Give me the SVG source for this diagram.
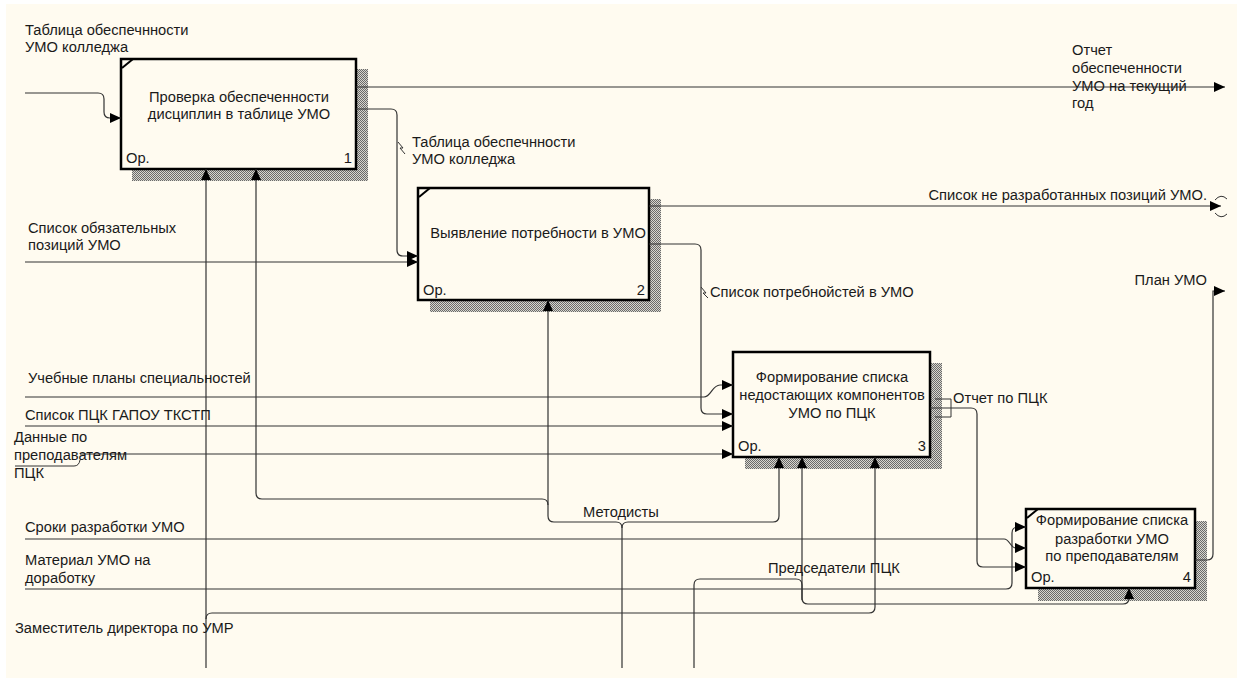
<svg xmlns="http://www.w3.org/2000/svg" width="1237" height="681" viewBox="0 0 1237 681">
<style>
text{font-family:"Liberation Sans",Arial,sans-serif;font-size:14.7px;fill:#1a1a1a}
.m{text-anchor:middle}
.e{text-anchor:end}
.box{fill:#fffbf0;stroke:#000;stroke-width:2.5}
.sh{fill:url(#hatch)}
.c{fill:none;stroke:#333;stroke-width:1.2}
.a{marker-end:url(#arr)}
.sq{fill:none;stroke:#333;stroke-width:1}
.cn{stroke:#000;stroke-width:2}
</style>
<defs>
<pattern id="hatch" width="2" height="2" patternUnits="userSpaceOnUse">
<rect width="2" height="2" fill="#d8d6ce"/>
<rect width="1" height="1" fill="#6a6a6a"/>
<rect x="1" y="1" width="1" height="1" fill="#6a6a6a"/>
</pattern>
<marker id="arr" markerWidth="12" markerHeight="10" refX="11" refY="5" orient="auto" markerUnits="userSpaceOnUse">
<path d="M0,0 L11,5 L0,10 Z" fill="#000"/>
</marker>
</defs>
<rect width="1237" height="681" fill="#ffffff"/>
<rect x="6" y="4" width="1231" height="674" fill="#fffbf0"/>

<g id="node1">
<rect class="sh" x="132" y="69" width="236" height="112"/>
<rect class="box" x="121" y="59" width="235" height="110"/>
<path class="cn" d="M122,68 L133,59"/>
<text class="m" x="239" y="102">Проверка обеспеченности</text>
<text class="m" x="239" y="119">дисциплин в таблице УМО</text>
<text x="126" y="163">Ор.</text>
<text class="e" x="352" y="163">1</text>
</g>

<g id="node2">
<rect class="sh" x="430" y="199" width="231" height="113"/>
<rect class="box" x="418" y="188" width="231" height="112"/>
<path class="cn" d="M419,197 L430,188"/>
<text class="m" x="538" y="238">Выявление потребности в УМО</text>
<text x="423" y="295">Ор.</text>
<text class="e" x="645" y="295">2</text>
</g>

<g id="node3">
<rect class="sh" x="745" y="363" width="197" height="106"/>
<rect class="box" x="733" y="352" width="197" height="105"/>
<text class="m" x="832" y="382">Формирование списка</text>
<text class="m" x="832" y="400">недостающих компонентов</text>
<text class="m" x="832" y="418">УМО по ПЦК</text>
<text x="738" y="451">Ор.</text>
<text class="e" x="926" y="451">3</text>
</g>

<g id="node4">
<rect class="sh" x="1038" y="521" width="169" height="80"/>
<rect class="box" x="1026" y="509" width="169" height="79"/>
<path class="cn" d="M1027,518 L1038,509"/>
<text class="m" x="1112" y="525">Формирование списка</text>
<text class="m" x="1112" y="544">разработки УМО</text>
<text class="m" x="1112" y="561">по преподавателям</text>
<text x="1031" y="582">Ор.</text>
<text class="e" x="1191" y="582">4</text>
</g>

<g id="connectors">
<path class="c a" d="M25,93 H98 Q104,93 104,99 V112 Q104,118 110,118 H121"/>
<path class="c a" d="M356,87 H1225"/>
<path class="c a" d="M356,109 H391 Q397,109 397,115 V250 Q397,256 403,256 H418"/>
<path class="sq" d="M398,142 L403,148 L400,148 L405,154"/>
<path class="c a" d="M25,262 H418"/>
<path class="c a" d="M649,206 H1221"/>
<path class="sq" d="M1215,200 Q1221,193 1227,199 M1215,213 Q1221,220 1227,214"/>
<path class="c a" d="M649,244 H695 Q701,244 701,250 V408 Q701,414 707,414 H733"/>
<path class="sq" d="M701,287 L706,293 L703,293 L708,298"/>
<path class="c a" d="M25,397 H704 C711,397 712,385 720,385 H733"/>
<path class="c a" d="M25,426 H733"/>
<path class="c a" d="M80,454 H733"/>
<path class="sq" d="M15,466 H74 Q79,466 80,460"/>
<path class="c a" d="M25,539 H1004 C1010,539 1010,548 1016,548 H1026"/>
<path class="c a" d="M25,589 H1006 Q1012,589 1012,583 V533 Q1012,527 1018,527 H1026"/>
<path class="c a" d="M930,408 H971 Q977,408 977,414 V561 Q977,567 983,567 H1026"/>
<path class="sq" d="M935,399 H951 V417 H935"/>
<path class="c a" d="M1195,560 H1207 Q1213,560 1213,554 V291 H1225"/>
<path class="c a" d="M206,668 V169"/>
<path class="c a" d="M206,619 Q206,613 212,613 H869 Q875,613 875,607 V457"/>
<path class="c a" d="M694,668 V585 Q694,579 700,579 H796 Q802,579 802,585 V598 Q802,604 808,604 H1123 Q1129,604 1129,598 V588"/>
<path class="c a" d="M802,600 V457"/>
<path class="c a" d="M622,668 V528 Q622,522 628,522 H773 Q779,522 779,516 V457"/>
<path class="c a" d="M622,528 Q622,522 616,522 H554 Q548,522 548,516 V300"/>
<path class="c a" d="M548,505 Q548,499 542,499 H262 Q256,499 256,493 V169"/>
</g>

<g id="labels">
<text x="25" y="35">Таблица обеспечнности</text>
<text x="25" y="52">УМО колледжа</text>
<text x="1072" y="55">Отчет</text>
<text x="1072" y="73">обеспеченности</text>
<text x="1072" y="91">УМО на текущий</text>
<text x="1072" y="108">год</text>
<text x="412" y="147">Таблица обеспечнности</text>
<text x="412" y="164">УМО колледжа</text>
<text x="28" y="233">Список обязательных</text>
<text x="28" y="250">позиций УМО</text>
<text class="e" x="1207" y="200">Список не разработанных позиций УМО.</text>
<text x="710" y="297">Список потребнойстей в УМО</text>
<text class="e" x="1207" y="285">План УМО</text>
<text x="28" y="383">Учебные планы специальностей</text>
<text x="25" y="420">Список ПЦК ГАПОУ ТКСТП</text>
<text x="14" y="442">Данные по</text>
<text x="14" y="460">преподавателям</text>
<text x="14" y="478">ПЦК</text>
<text x="953" y="403">Отчет по ПЦК</text>
<text x="583" y="517">Методисты</text>
<text x="25" y="532">Сроки разработки УМО</text>
<text x="25" y="565">Материал УМО на</text>
<text x="25" y="583">доработку</text>
<text x="768" y="573">Председатели ПЦК</text>
<text x="15" y="633">Заместитель директора по УМР</text>
</g>
</svg>
